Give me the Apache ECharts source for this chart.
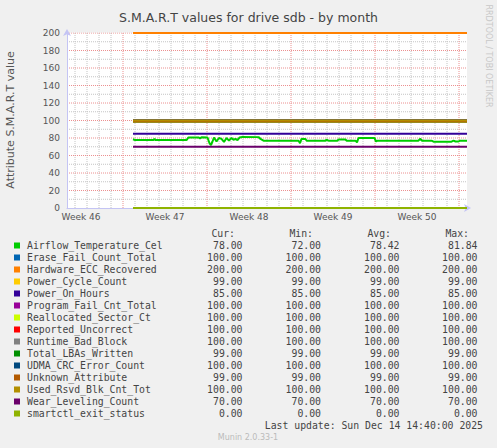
<!DOCTYPE html>
<html><head><meta charset="utf-8">
<script src="https://cdn.jsdelivr.net/npm/echarts@6/dist/echarts.min.js"></script>
<style>html,body{margin:0;padding:0;background:#f0f0f0}#c{width:497px;height:448px}</style>
</head><body><div id="c"></div>
<script>
// ---- data ----
const titleText = 'S.M.A.R.T values for drive sdb - by month';
const yAxisName = 'Attribute S.M.A.R.T value';
const seriesNames = ['Airflow_Temperature_Cel','Erase_Fail_Count_Total','Hardware_ECC_Recovered','Power_Cycle_Count','Power_On_Hours','Program_Fail_Cnt_Total','Reallocated_Sector_Ct','Reported_Uncorrect','Runtime_Bad_Block','Total_LBAs_Written','UDMA_CRC_Error_Count','Unknown_Attribute','Used_Rsvd_Blk_Cnt_Tot','Wear_Leveling_Count','smartctl_exit_status'];
const curValues = [78.00,100.00,200.00,99.00,85.00,100.00,100.00,100.00,100.00,99.00,100.00,99.00,100.00,70.00,0.00];
const minValues = [72.00,100.00,200.00,99.00,85.00,100.00,100.00,100.00,100.00,99.00,100.00,99.00,100.00,70.00,0.00];
const avgValues = [78.42,100.00,200.00,99.00,85.00,100.00,100.00,100.00,100.00,99.00,100.00,99.00,100.00,70.00,0.00];
const maxValues = [81.84,100.00,200.00,99.00,85.00,100.00,100.00,100.00,100.00,99.00,100.00,99.00,100.00,70.00,0.00];
const weekLabels = ['Week 46','Week 47','Week 48','Week 49','Week 50'];
const weekCenterHours = [28,196,364,532,700];
const weekStartHours = [112,280,448,616,784];
const totalHours = 800;
const yMax = 200;
const dataStartHour = 132;
// Airflow_Temperature_Cel : [hour from left edge, value]
const airflowPoints = [[132,78.5],[136,77.7],[173,77.7],[175,79],[177,77.7],[239,77.7],[243,80.6],[263,80.6],[266,79.6],[269,80.8],[281,80.6],[285,74],[288,72],[291,76],[294,80.5],[299,76],[304,80],[309,79],[314,75.5],[319,80],[324,77],[329,80],[333,78],[337,79],[341,77.5],[345,80.5],[351,81.2],[383,81],[387,79],[393,77],[463,77],[466,74],[469,79],[477,79],[479,77],[517,77],[519,78],[523,77],[541,77],[543,78.3],[557,78.3],[559,77],[577,77],[580,75],[583,80],[615,80],[618,76],[621,77],[703,77],[706,79],[710,77],[729,77],[733,75.8],[769,75.8],[773,77],[777,76],[783,76],[786,77],[800,77]];
const lastUpdate = 'Last update: Sun Dec 14 14:40:00 2025';
const footerText = 'Munin 2.0.33-1';
const sideText = 'RRDTOOL / TOBI OETIKER';

// ---- styles ----
const palette = ['#00CC00','#0066B3','#FF8000','#FFCC00','#330099','#990099','#CCFF00','#FF0000','#808080','#008F00','#00487D','#B35A00','#B38F00','#6B006B','#8FB300'];
const SANS = '"DejaVu Sans"';
const MONO = '"DejaVu Sans Mono"';

const hourCats = [];
for (let h = 0; h <= totalHours; h++) hourCats.push(String(h));

// grid line positions (axis units)
const dayLines = [];
for (let h = weekStartHours[0] % 24; h < totalHours; h += 24) if (weekStartHours.indexOf(h) < 0) dayLines.push(h);
const yMajorLines = [], yMinorLines = [];
for (let v = 20; v <= yMax; v += 20) yMajorLines.push(v);
for (let v = 10; v < yMax; v += 20) yMinorLines.push(v);

const segs = (xs, ys) => {
  const d = [];
  xs.forEach(h => { d.push([h, 0], [h, yMax], [h, '-']); });
  ys.forEach(v => { d.push([0, v], [totalHours, v], [totalHours, '-']); });
  return d;
};
const gridSeries = (name, xs, ys, color, z) => ({
  name, type: 'line', data: segs(xs, ys), z, animation: false, symbol: 'none', showSymbol: false,
  connectNulls: false, emphasis: { disabled: true },
  lineStyle: { color, type: 'dotted', width: 1 }, itemStyle: { color }
});
const bgSeries = {
  name: 'plotBackground', type: 'line', data: [[0, yMax], [totalHours, yMax]], z: 1, animation: false,
  symbol: 'none', showSymbol: false, emphasis: { disabled: true },
  lineStyle: { width: 1, color: '#ffffff' }, itemStyle: { color: '#ffffff' },
  areaStyle: { color: '#ffffff', opacity: 1 }
};

const series = [
  bgSeries,
  gridSeries('minorGrid', dayLines, yMinorLines, '#c4c4c4', 2),
  gridSeries('majorGrid', weekStartHours, yMajorLines, '#ec9090', 3)
].concat(seriesNames.map((name, i) => ({
  name, type: 'line', symbol: 'none', animation: false, z: 5,
  data: i === 0 ? airflowPoints : [[dataStartHour, curValues[i]], [totalHours, curValues[i]]],
  lineStyle: { width: 2, color: palette[i] }, itemStyle: { color: palette[i] }
})));

const fmt = v => v.toFixed(2);
const graphics = [];
graphics.push({ type: 'text', x: 10.7, y: 120, rotation: Math.PI / 2,
  style: { text: yAxisName, align: 'center', verticalAlign: 'middle', font: '11px ' + SANS, fill: '#555' } });
graphics.push({ type: 'text', x: 488, y: 56, rotation: -Math.PI / 2,
  style: { text: sideText, align: 'center', verticalAlign: 'middle', font: '8px ' + SANS, fill: '#c8c8c8' } });
const headers = ['Cur:', 'Min:', 'Avg:', 'Max:'];
const headerRight = [235, 313, 391, 469];
const valueRight = [242.5, 321, 399.5, 477.5];
headers.forEach((h, k) => graphics.push({ type: 'text', x: headerRight[k], y: 233,
  style: { text: h, align: 'right', verticalAlign: 'middle', font: '9.8px ' + MONO, fill: '#444' } }));
const cols = [curValues, minValues, avgValues, maxValues];
seriesNames.forEach((name, i) => {
  const y = 245.5 + 12 * i;
  graphics.push({ type: 'rect', shape: { x: 14, y: y - 3, width: 6, height: 6 }, style: { fill: palette[i] } });
  graphics.push({ type: 'text', x: 27, y, style: { text: name, align: 'left', verticalAlign: 'middle', font: '9.8px ' + MONO, fill: '#444' } });
  cols.forEach((arr, k) => graphics.push({ type: 'text', x: valueRight[k], y,
    style: { text: fmt(arr[i]), align: 'right', verticalAlign: 'middle', font: '9.8px ' + MONO, fill: '#444' } }));
});
graphics.push({ type: 'text', x: 483, y: 425.7, style: { text: lastUpdate, align: 'right', verticalAlign: 'middle', font: '9.8px ' + MONO, fill: '#444' } });
graphics.push({ type: 'text', x: 248, y: 437.5, style: { text: footerText, align: 'center', verticalAlign: 'middle', font: '8px ' + SANS, fill: '#bbb' } });

const chart = echarts.init(document.getElementById('c'), null, { renderer: 'svg' });
chart.setOption({
  backgroundColor: '#f0f0f0',
  animation: false,
  title: { text: titleText, left: 'center', top: 6, textStyle: { fontSize: 12.5, fontWeight: 'normal', color: '#444', fontFamily: 'DejaVu Sans' } },
  grid: { left: 67, top: 33, width: 400, height: 175, show: false },
  xAxis: { type: 'category', data: hourCats, boundaryGap: false, z: 4,
    axisLine: { show: true, lineStyle: { color: '#c4c4f4', width: 1 }, symbol: ['none', 'arrow'], symbolSize: [6, 7], symbolOffset: [0, 4] },
    axisTick: { show: false },
    axisLabel: { interval: (i) => weekCenterHours.indexOf(i) >= 0, formatter: (v) => weekLabels[weekCenterHours.indexOf(Number(v))] || '',
      fontSize: 9, color: '#555', margin: 4, fontFamily: 'DejaVu Sans' },
    splitLine: { show: false }
  },
  yAxis: { type: 'value', min: 0, max: yMax, interval: 20, z: 4,
    axisLine: { show: true, lineStyle: { color: '#c4c4f4', width: 1 }, symbol: ['none', 'arrow'], symbolSize: [6, 7], symbolOffset: [0, 4] },
    axisTick: { show: false },
    axisLabel: { fontSize: 9, color: '#555', margin: 7, fontFamily: 'DejaVu Sans' },
    splitLine: { show: false }
  },
  series,
  graphic: { elements: graphics }
});
</script></body></html>
